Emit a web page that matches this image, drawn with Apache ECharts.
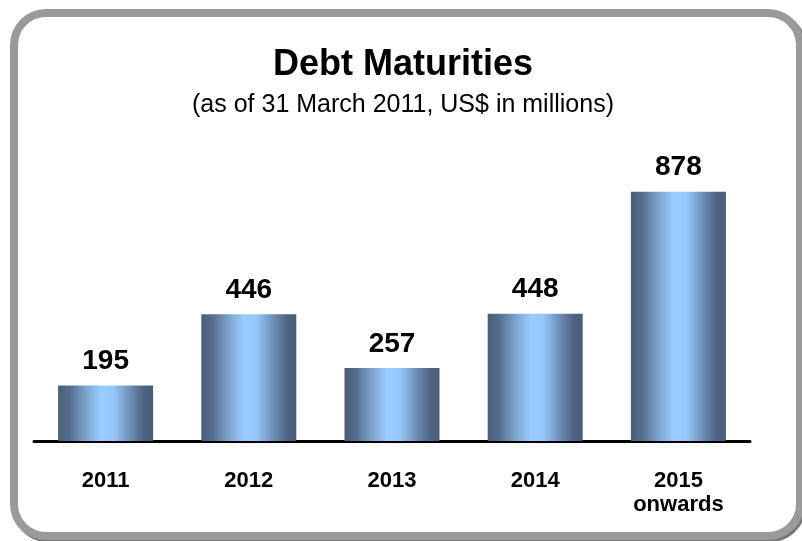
<!DOCTYPE html>
<html>
<head>
<meta charset="utf-8">
<script src="https://cdn.jsdelivr.net/npm/echarts@6/dist/echarts.min.js"></script>
<style>html,body{margin:0;padding:0;background:#fff;}#c{width:802px;height:541px;}</style>
</head>
<body>
<div id="c"></div>
<script>
var categories = ['2011', '2012', '2013', '2014', '2015\nonwards'];
var values = [195, 446, 257, 448, 878];
var titleText = 'Debt Maturities';
var subtitleText = '(as of 31 March 2011, US$ in millions)';

var chart = echarts.init(document.getElementById('c'));
var font = '"Liberation Sans", Arial, sans-serif';
chart.setOption({
  animation: false,
  backgroundColor: '#fff',
  graphic: [
    { type: 'rect', z: -1, shape: { x: 16, y: 15, width: 786, height: 523, r: 32 }, style: { fill: 'none', stroke: '#777', lineWidth: 8 } },
    { type: 'rect', z: 0, shape: { x: 14, y: 13, width: 786, height: 523, r: 32 }, style: { fill: '#fff', stroke: '#9a9a9a', lineWidth: 8 } }
  ],
  title: [
    { text: titleText, left: 398, top: 42, textAlign: 'center', textStyle: { fontFamily: font, fontSize: 36, fontWeight: 'bold', color: '#000' } },
    { text: subtitleText, left: 398, top: 88, textAlign: 'center', textStyle: { fontFamily: font, fontSize: 25, fontWeight: 'normal', color: '#000' } }
  ],
  grid: { left: 34, right: 52, top: 157, bottom: 100 },
  xAxis: {
    type: 'category',
    data: categories,
    axisLine: { show: true, lineStyle: { color: '#000', width: 3 } },
    axisTick: { show: false },
    axisLabel: { margin: 28, fontFamily: font, fontSize: 22, fontWeight: 'bold', color: '#000', lineHeight: 24 }
  },
  yAxis: { type: 'value', min: 0, max: 1000, show: false, splitLine: { show: false } },
  series: [{
    type: 'bar',
    data: values,
    barWidth: 95,
    itemStyle: {
      color: new echarts.graphic.LinearGradient(0, 0, 1, 0, [
        { offset: 0, color: '#4a5d78' },
        { offset: 0.12, color: '#566e8e' },
        { offset: 0.3, color: '#7fa6d2' },
        { offset: 0.45, color: '#99ccff' },
        { offset: 0.58, color: '#96c8fa' },
        { offset: 0.78, color: '#6a87ad' },
        { offset: 0.9, color: '#4e6381' },
        { offset: 1, color: '#4a5d78' }
      ])
    },
    label: { show: true, position: 'top', distance: 10, fontFamily: font, fontSize: 28, fontWeight: 'bold', color: '#000' }
  }]
});
</script>
</body>
</html>
